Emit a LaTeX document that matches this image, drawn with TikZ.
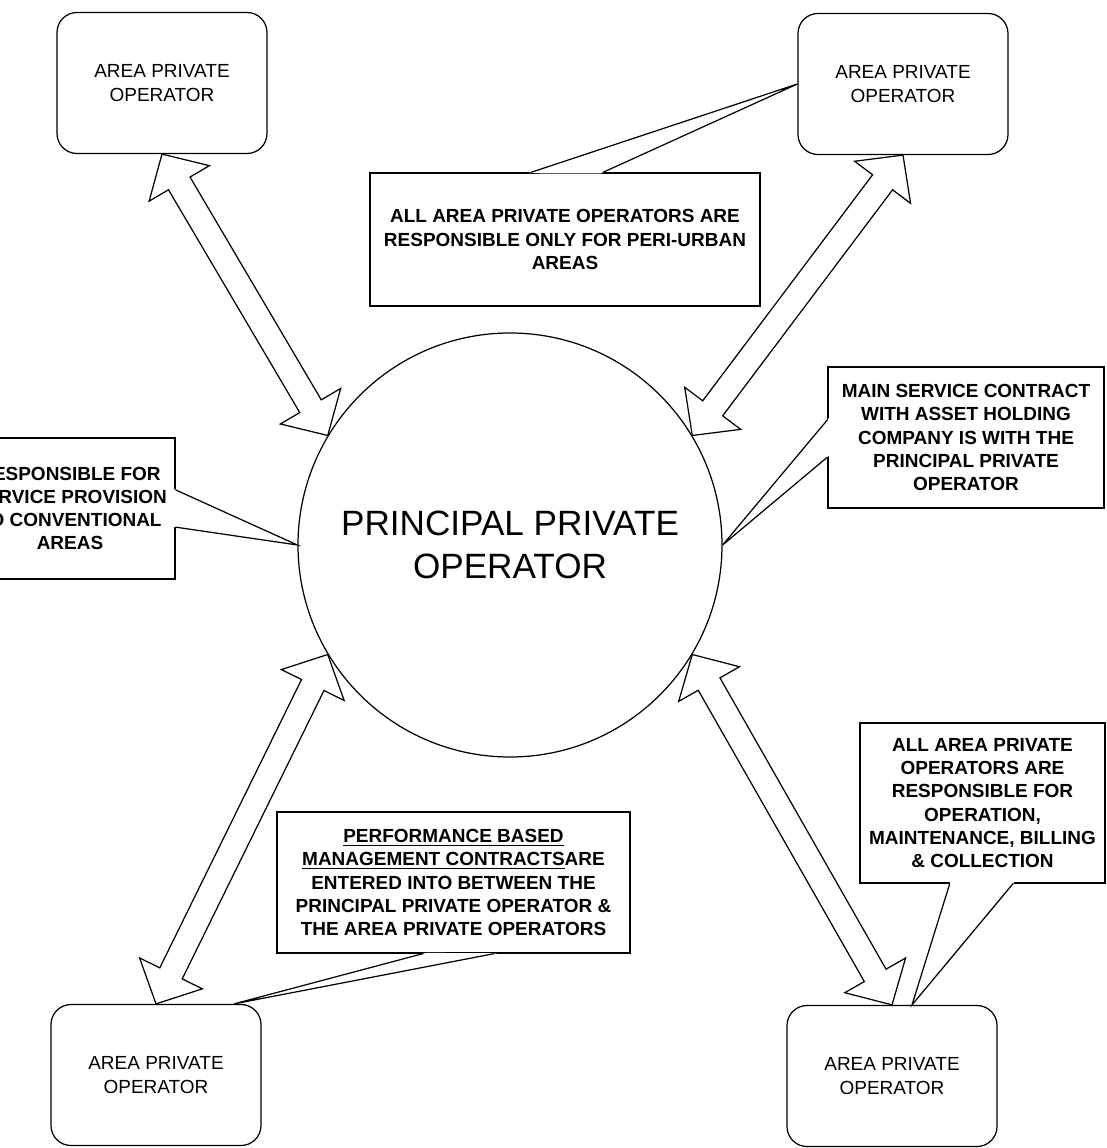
\documentclass[tikz,border=0pt]{standalone}
\usepackage{fontspec}
\setmainfont{Liberation Sans}
\usetikzlibrary{calc}

\newcommand{\arrhead}{6.8mm}
\newcommand{\arrwing}{7mm}
\newcommand{\arrshaft}{2.5mm}

\newcommand{\dblarrow}[2]{%
  \coordinate (neckA) at ($(#1)!\arrhead!(#2)$);
  \coordinate (neckB) at ($(#2)!\arrhead!(#1)$);
  \draw[blockarrow] (#1)
    -- ($(neckA)!\arrwing!90:(#2)$)
    -- ($(neckA)!\arrshaft!90:(#2)$)
    -- ($(neckB)!\arrshaft!-90:(#1)$)
    -- ($(neckB)!\arrwing!-90:(#1)$)
    -- (#2)
    -- ($(neckB)!\arrwing!90:(#1)$)
    -- ($(neckB)!\arrshaft!90:(#1)$)
    -- ($(neckA)!\arrshaft!-90:(#2)$)
    -- ($(neckA)!\arrwing!-90:(#2)$)
    -- cycle;}

\newcommand{\calltail}[3]{%
  \fill[white] ($(#1)!-1.5pt!(#3)$) -- (#3) -- ($(#2)!-1.5pt!(#3)$) -- cycle;
  \draw (#1) -- (#3) -- (#2);}

\begin{document}
\begin{tikzpicture}[
    x=0.2mm,
    y=-0.2mm,
    line width=0.7pt,
    apobox/.style={draw, rounded corners=4mm, minimum width=42mm,
        minimum height=28.2mm, inner sep=0pt, align=center,
        font=\fontsize{10.8}{13.2}\selectfont},
    note/.style={draw, fill=white, inner sep=0pt, align=center,
        font=\fontsize{10.8}{13.2}\selectfont\bfseries},
    hub/.style={circle, draw, minimum size=84.8mm, inner sep=0pt,
        align=center, font=\fontsize{20}{24.4}\selectfont},
    blockarrow/.style={draw, fill=white, line join=miter}
]

\path[use as bounding box] (0,0) rectangle (1106,1148);
\clip (0,0) rectangle (1106,1148);

\node[hub] (ppo) at (510,545) {PRINCIPAL PRIVATE\\OPERATOR};

\node[apobox] (apoNW) at (162,83) {AREA PRIVATE\\OPERATOR};
\node[apobox] (apoNE) at (903,84) {AREA PRIVATE\\OPERATOR};
\node[apobox] (apoSW) at (156,1075) {AREA PRIVATE\\OPERATOR};
\node[apobox] (apoSE) at (892,1076) {AREA PRIVATE\\OPERATOR};

\node[note, minimum width=78mm, minimum height=26.6mm] (noteNE) at (565,239.5)
    {ALL AREA PRIVATE OPERATORS ARE\\RESPONSIBLE ONLY FOR PERI-URBAN\\AREAS};
\node[note, minimum width=42mm, minimum height=28.2mm] (noteW) at (70,508.5)
    {RESPONSIBLE FOR\\SERVICE PROVISION\\TO CONVENTIONAL\\AREAS};
\node[note, minimum width=55.2mm, minimum height=28.2mm] (noteE) at (966,437.5)
    {MAIN SERVICE CONTRACT\\WITH ASSET HOLDING\\COMPANY IS WITH THE\\PRINCIPAL PRIVATE\\OPERATOR};
\node[note, minimum width=49mm, minimum height=32mm] (noteSE) at (982.5,803)
    {ALL AREA PRIVATE\\OPERATORS ARE\\RESPONSIBLE FOR\\OPERATION,\\MAINTENANCE, BILLING\\\& COLLECTION};
\node[note, minimum width=70.6mm, minimum height=28.2mm] (noteS) at (453.5,882.5)
    {\underline{PERFORMANCE BASED}\\\underline{MANAGEMENT CONTRACTS}ARE\\ENTERED INTO BETWEEN THE\\PRINCIPAL PRIVATE OPERATOR \&\\THE AREA PRIVATE OPERATORS};

\coordinate (tNEa) at ($(noteNE.north west)!0.413!(noteNE.north east)$);
\coordinate (tNEb) at ($(noteNE.north west)!0.597!(noteNE.north east)$);
\coordinate (tWa) at ($(noteW.north east)!0.369!(noteW.south east)$);
\coordinate (tWb) at ($(noteW.north east)!0.631!(noteW.south east)$);
\coordinate (tEa) at ($(noteE.north west)!0.376!(noteE.south west)$);
\coordinate (tEb) at ($(noteE.north west)!0.638!(noteE.south west)$);
\coordinate (tSEa) at ($(noteSE.south west)!0.367!(noteSE.south east)$);
\coordinate (tSEb) at ($(noteSE.south west)!0.624!(noteSE.south east)$);
\coordinate (tSa) at ($(noteS.south west)!0.414!(noteS.south east)$);
\coordinate (tSb) at ($(noteS.south west)!0.615!(noteS.south east)$);
\coordinate (pinSE) at ($(apoSE.north)+(20,0)$);
\coordinate (pinSW) at ($(apoSW.north)+(78,0)$);

\calltail{tNEa}{tNEb}{apoNE.west}
\calltail{tWa}{tWb}{ppo.west}
\calltail{tEa}{tEb}{ppo.east}
\calltail{tSEa}{tSEb}{pinSE}
\calltail{tSa}{tSb}{pinSW}

\dblarrow{apoNW.south}{ppo.149}
\dblarrow{apoNE.south}{ppo.31}
\dblarrow{apoSW.north}{ppo.211}
\dblarrow{apoSE.north}{ppo.329}

\end{tikzpicture}
\end{document}
